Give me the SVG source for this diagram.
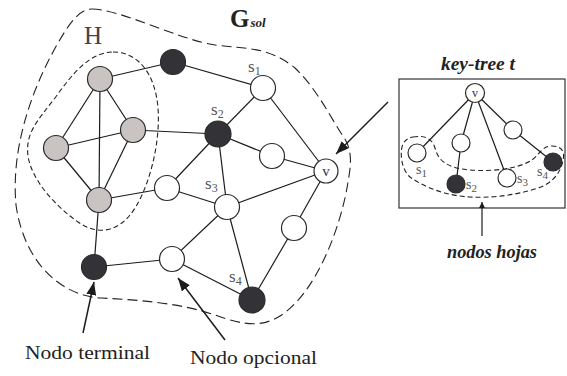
<svg xmlns="http://www.w3.org/2000/svg" width="567" height="376" viewBox="0 0 567 376">
  <style>
    .edge { stroke: #1c1c1c; stroke-width: 1.2; fill: none; }
    .node { stroke: #2a2a2a; stroke-width: 1.2; }
    .white { fill: #ffffff; }
    .gray { fill: #c9c4c1; }
    .black { fill: #333236; }
    .region { fill: none; stroke: #222; stroke-width: 1.1; }
    .big-dash { stroke-dasharray: 10 5; }
    .small-dash { stroke-dasharray: 5 3; }
    .lbl { font-family: "Liberation Serif", "DejaVu Serif", serif; fill: #555; }
    .sub { font-size: 12px; }
    .cap { font-family: "Liberation Serif", "DejaVu Serif", serif; fill: #222; font-size: 19px; }
    .ital { font-family: "Liberation Serif", "DejaVu Serif", serif; font-style: italic; font-weight: bold; fill: #222; }
    .arrow { stroke: #1c1c1c; stroke-width: 1.5; fill: none; }
  </style>
  <defs>
    <marker id="head" markerUnits="userSpaceOnUse" markerWidth="14" markerHeight="10" refX="13" refY="5" orient="auto">
      <path d="M0,0 L13,5 L0,10 Z" fill="#1c1c1c"/>
    </marker>
    <marker id="head-small" markerUnits="userSpaceOnUse" markerWidth="7" markerHeight="6" refX="6" refY="3" orient="auto">
      <path d="M0,0 L6,3 L0,6 Z" fill="#1c1c1c"/>
    </marker>
  </defs>

  <rect width="567" height="376" fill="#ffffff"/>

  <!-- solution subgraph outline and region H -->
  <g id="region-gsol">
    <path class="region big-dash" d="M92,9 C120,9 180,40 215,45 C245,49 268,46 295,68 C318,90 333,122 343,136 C353,150 351,165 348,182 C342,222 318,292 280,316 C262,327 245,326 215,315 C180,303 140,300 100,298 C60,295 24,262 16,205 C11,150 30,92 58,43 C70,22 80,9 92,9 Z"/>
    <text x="230" y="27" class="lbl" style="font-weight:bold;fill:#222;font-size:25px">G<tspan style="font-size:13px;font-style:italic" dx="1">sol</tspan></text>
  </g>
  <g id="region-h">
    <path class="region small-dash" d="M113,52 C137,52 155,72 158,108 C161,148 146,196 130,215 C117,231 98,236 78,222 C58,208 32,182 28,156 C25,133 38,120 55,98 C72,74 90,52 113,52 Z"/>
    <text x="93" y="44" text-anchor="middle" class="lbl" style="font-size:25px;fill:#444">H</text>
  </g>

  <!-- connectors of the main graph -->
  <g id="edges">
    <line class="edge" x1="100" y1="79" x2="173" y2="62"/>
    <line class="edge" x1="173" y1="62" x2="263" y2="88"/>
    <line class="edge" x1="100" y1="79" x2="133" y2="130"/>
    <line class="edge" x1="100" y1="79" x2="56" y2="148"/>
    <line class="edge" x1="100" y1="79" x2="99" y2="200"/>
    <line class="edge" x1="133" y1="130" x2="56" y2="148"/>
    <line class="edge" x1="133" y1="130" x2="99" y2="200"/>
    <line class="edge" x1="56" y1="148" x2="99" y2="200"/>
    <line class="edge" x1="133" y1="130" x2="218" y2="134"/>
    <line class="edge" x1="263" y1="88" x2="218" y2="134"/>
    <line class="edge" x1="263" y1="88" x2="326" y2="171"/>
    <line class="edge" x1="218" y1="134" x2="272" y2="156"/>
    <line class="edge" x1="272" y1="156" x2="326" y2="171"/>
    <line class="edge" x1="218" y1="134" x2="167" y2="188"/>
    <line class="edge" x1="218" y1="134" x2="227" y2="207"/>
    <line class="edge" x1="99" y1="200" x2="167" y2="188"/>
    <line class="edge" x1="167" y1="188" x2="227" y2="207"/>
    <line class="edge" x1="227" y1="207" x2="326" y2="171"/>
    <line class="edge" x1="227" y1="207" x2="172" y2="259"/>
    <line class="edge" x1="227" y1="207" x2="252" y2="300"/>
    <line class="edge" x1="172" y1="259" x2="94" y2="267"/>
    <line class="edge" x1="94" y1="267" x2="99" y2="200"/>
    <line class="edge" x1="172" y1="259" x2="252" y2="300"/>
    <line class="edge" x1="326" y1="171" x2="294" y2="228"/>
    <line class="edge" x1="294" y1="228" x2="252" y2="300"/>
  </g>

  <!-- nodes of the main graph -->
  <g id="n-h-top"><circle class="node gray" cx="100" cy="79" r="12.5"/></g>
  <g id="n-h-right"><circle class="node gray" cx="133" cy="130" r="12.5"/></g>
  <g id="n-h-left"><circle class="node gray" cx="56" cy="148" r="12.5"/></g>
  <g id="n-h-bottom"><circle class="node gray" cx="99" cy="200" r="12.5"/></g>
  <g id="n-top"><circle class="node black" cx="173" cy="62" r="12.5"/></g>
  <g id="n-s1">
    <circle class="node white" cx="263" cy="88" r="12.5"/>
    <text x="248" y="72" class="lbl" style="font-size:17px">s<tspan class="sub" dy="3">1</tspan></text>
  </g>
  <g id="n-s2">
    <circle class="node black" cx="218" cy="134" r="13"/>
    <text x="211" y="115" class="lbl" style="font-size:17px">s<tspan class="sub" dy="3">2</tspan></text>
  </g>
  <g id="n-mid"><circle class="node white" cx="272" cy="156" r="12.5"/></g>
  <g id="n-v">
    <circle class="node white" cx="326" cy="171" r="12"/>
    <text x="326" y="176" text-anchor="middle" class="lbl" style="font-size:15px;fill:#333">v</text>
  </g>
  <g id="n-left"><circle class="node white" cx="167" cy="188" r="12.5"/></g>
  <g id="n-s3">
    <circle class="node white" cx="227" cy="207" r="12.5"/>
    <text x="205" y="189" class="lbl" style="font-size:17px">s<tspan class="sub" dy="3">3</tspan></text>
  </g>
  <g id="n-right"><circle class="node white" cx="294" cy="228" r="12.5"/></g>
  <g id="n-low"><circle class="node white" cx="172" cy="259" r="12.5"/></g>
  <g id="n-s4">
    <circle class="node black" cx="252" cy="300" r="13"/>
    <text x="229" y="282" class="lbl" style="font-size:17px">s<tspan class="sub" dy="3">4</tspan></text>
  </g>
  <g id="n-terminal"><circle class="node black" cx="94" cy="267" r="12.5"/></g>

  <!-- pointer arrows and captions -->
  <g id="callouts">
    <line class="arrow" x1="388" y1="102" x2="336" y2="154" marker-end="url(#head)"/>
    <line class="arrow" x1="83" y1="333" x2="94" y2="282" marker-end="url(#head)"/>
    <line class="arrow" x1="225" y1="340" x2="178" y2="278" marker-end="url(#head)"/>
    <text x="25" y="359" class="cap" textLength="125" lengthAdjust="spacingAndGlyphs">Nodo terminal</text>
    <text x="190" y="364" class="cap" textLength="127" lengthAdjust="spacingAndGlyphs">Nodo opcional</text>
  </g>

  <!-- key-tree panel -->
  <g id="key-tree">
    <text x="478" y="70" text-anchor="middle" class="ital" style="font-size:18px;font-weight:600" textLength="74" lengthAdjust="spacingAndGlyphs">key-tree t</text>
    <rect x="399" y="79" width="166" height="129" fill="none" stroke="#333" stroke-width="1.2"/>
    <path class="region small-dash" d="M413,137 C424,135 432,138 435,148 C438,160 446,168 470,170 C495,172 520,168 532,160 C540,154 542,146 552,146 C562,146 565,152 563,160 C561,172 553,184 535,189 C512,196 490,198 470,197 C448,196 425,188 410,177 C400,168 400,150 403,144 C405,140 408,138 413,137 Z"/>
    <g id="kt-edges">
      <line class="edge" x1="475" y1="93" x2="417" y2="153"/>
      <line class="edge" x1="475" y1="93" x2="461" y2="143"/>
      <line class="edge" x1="461" y1="143" x2="456" y2="184"/>
      <line class="edge" x1="475" y1="93" x2="507" y2="178"/>
      <line class="edge" x1="475" y1="93" x2="513" y2="130"/>
      <line class="edge" x1="513" y1="130" x2="553" y2="162"/>
    </g>
    <g id="kt-v">
      <circle class="node white" cx="475" cy="93" r="9.5"/>
      <text x="475" y="97" text-anchor="middle" class="lbl" style="font-size:12px;fill:#333">v</text>
    </g>
    <g id="kt-a"><circle class="node white" cx="513" cy="130" r="9"/></g>
    <g id="kt-b"><circle class="node white" cx="461" cy="143" r="9"/></g>
    <g id="kt-s1">
      <circle class="node white" cx="417" cy="153" r="9"/>
      <text x="416" y="174" class="lbl" style="font-size:14px">s<tspan style="font-size:11px" dy="3">1</tspan></text>
    </g>
    <g id="kt-s2">
      <circle class="node black" cx="456" cy="184" r="9"/>
      <text x="466" y="189" class="lbl" style="font-size:14px">s<tspan style="font-size:11px" dy="3">2</tspan></text>
    </g>
    <g id="kt-s3">
      <circle class="node white" cx="507" cy="178" r="9"/>
      <text x="517" y="183" class="lbl" style="font-size:14px">s<tspan style="font-size:11px" dy="3">3</tspan></text>
    </g>
    <g id="kt-s4">
      <circle class="node black" cx="553" cy="162" r="9"/>
      <text x="537" y="176" class="lbl" style="font-size:14px">s<tspan style="font-size:11px" dy="3">4</tspan></text>
    </g>
    <line class="arrow" style="stroke-width:1.2" x1="482" y1="236" x2="482" y2="202" marker-end="url(#head-small)"/>
    <text x="492" y="258" text-anchor="middle" class="ital" style="font-size:18px;font-weight:600" textLength="90" lengthAdjust="spacingAndGlyphs">nodos hojas</text>
  </g>
</svg>
